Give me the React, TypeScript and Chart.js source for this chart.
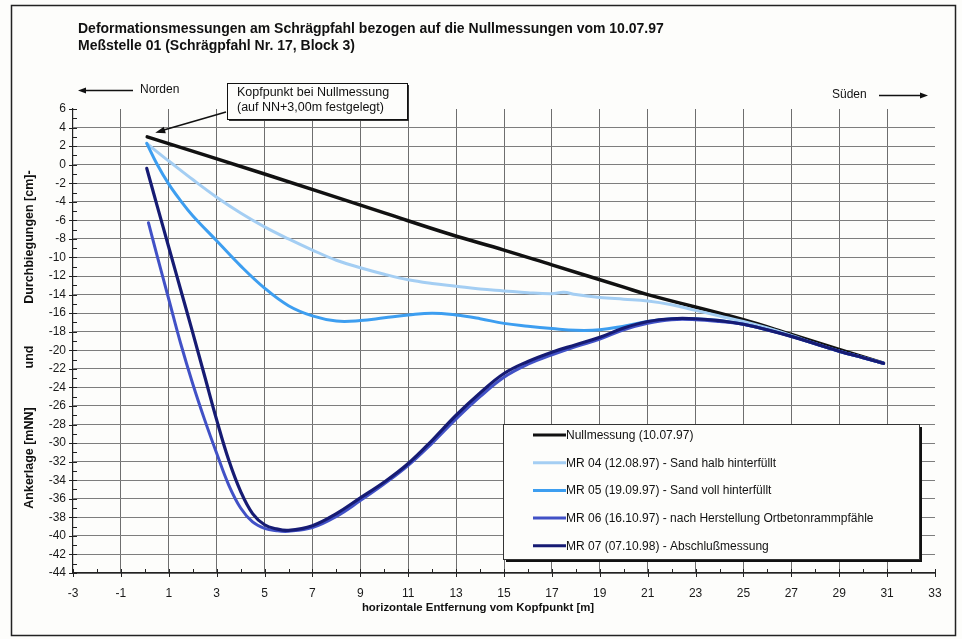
import React, { useEffect, useRef } from "react";
import { Chart, registerables } from "chart.js";

Chart.register(...registerables);

// ---------- text ----------
const TITLE_LINES = [
  "Deformationsmessungen am Schrägpfahl bezogen auf die Nullmessungen vom 10.07.97",
  "Meßstelle 01 (Schrägpfahl Nr. 17, Block 3)",
];
const X_TITLE = "horizontale Entfernung vom Kopfpunkt [m]";
const Y_TITLE_PARTS = ["Durchbiegungen [cm]-", "und", "Ankerlage [mNN]"];
const NOTE_LINES = ["Kopfpunkt bei Nullmessung", "(auf NN+3,00m festgelegt)"];
const NORTH_LABEL = "Norden";
const SOUTH_LABEL = "Süden";

// ---------- axes ----------
const X_MIN = -3;
const X_MAX = 33;
const X_STEP = 2;
const Y_MIN = -44;
const Y_MAX = 6;
const Y_STEP = 2;

// ---------- series ----------
const SERIES_LABELS = [
  "Nullmessung (10.07.97)",
  "MR 04 (12.08.97) - Sand halb hinterfüllt",
  "MR 05 (19.09.97) - Sand voll hinterfüllt",
  "MR 06 (16.10.97) - nach Herstellung Ortbetonrammpfähle",
  "MR 07 (07.10.98) - Abschlußmessung",
];
const SERIES_COLORS = ["#111111", "#a4cef3", "#3d9ef0", "#4151c6", "#161b73"];

const NULL_X = [0.1, 5, 10, 12.75, 15, 17, 20, 21, 25, 27, 30.85];
const NULL_Y = [3, -1.0, -5.2, -7.5, -9.2, -10.8, -13.2, -14.0, -16.7, -18.3, -21.4];

const MR04_X = [0.08, 0.5, 1, 2, 3, 4, 5, 6, 7, 8, 9, 10, 11, 12, 13, 14, 15, 16, 17, 17.5, 18, 19, 20, 21, 22, 23, 24, 25, 26, 27, 28, 29, 30, 30.85];
const MR04_Y = [2.3, 1.4, 0.4, -1.6, -3.5, -5.2, -6.7, -8.0, -9.2, -10.3, -11.1, -11.8, -12.4, -12.8, -13.1, -13.4, -13.6, -13.8, -13.9, -13.75, -14.0, -14.3, -14.5, -14.7, -15.1, -15.7, -16.3, -16.9, -17.6, -18.4, -19.3, -20.1, -20.8, -21.4];

const MR05_X = [0.08, 0.5, 1, 1.5, 2, 3, 4, 5, 6, 7, 8, 9, 10, 11, 12, 13, 14, 15, 16, 17, 18, 19, 20, 21, 22, 23, 24, 25, 26, 27, 28, 29, 30, 30.85];
const MR05_Y = [2.3, 0.1, -2.1, -3.9, -5.5, -8.2, -10.9, -13.3, -15.2, -16.3, -16.85, -16.8, -16.5, -16.2, -16.0, -16.2, -16.6, -17.1, -17.4, -17.65, -17.85, -17.8, -17.4, -16.9, -16.6, -16.6, -16.8, -17.2, -17.8, -18.5, -19.3, -20.1, -20.8, -21.4];

const MR06_X = [0.15, 0.5, 1, 1.5, 2, 2.5, 3, 3.5, 4, 4.5, 5, 5.5, 6, 7, 8, 9, 10, 11, 12, 13, 14, 15, 16, 17, 18, 19, 20, 21, 22, 23, 24, 25, 26, 27, 28, 29, 30, 30.85];
const MR06_Y = [-6.25, -9.7, -14.5, -19.3, -23.6, -27.5, -31.1, -34.5, -37.0, -38.5, -39.2, -39.45, -39.5, -39.1, -37.9, -36.2, -34.4, -32.4, -30.0, -27.4, -25.0, -22.9, -21.5, -20.5, -19.6, -18.8, -17.8, -17.1, -16.7, -16.7, -16.9, -17.2, -17.8, -18.5, -19.3, -20.1, -20.8, -21.4];

const MR07_X = [0.08, 0.5, 1, 1.5, 2, 2.5, 3, 3.5, 4, 4.5, 5, 5.5, 6, 7, 8, 9, 10, 11, 12, 13, 14, 15, 16, 17, 18, 19, 20, 21, 22, 23, 24, 25, 26, 27, 28, 29, 30, 30.85];
const MR07_Y = [-0.4, -4.3, -8.9, -13.5, -18.1, -22.8, -27.5, -31.8, -35.2, -37.6, -38.8, -39.25, -39.4, -38.9, -37.6, -35.9, -34.2, -32.2, -29.7, -27.0, -24.6, -22.5, -21.2, -20.2, -19.4, -18.6, -17.6, -16.9, -16.6, -16.6, -16.8, -17.2, -17.8, -18.5, -19.3, -20.1, -20.8, -21.4];

const SERIES_X = [NULL_X, MR04_X, MR05_X, MR06_X, MR07_X];
const SERIES_Y = [NULL_Y, MR04_Y, MR05_Y, MR06_Y, MR07_Y];
const SERIES_WIDTH = [3.5, 3, 3, 3, 3.2];

const FONT = "'Liberation Sans', Arial, Helvetica, sans-serif";

function arrowHead(ctx: CanvasRenderingContext2D, x1: number, y1: number, x2: number, y2: number, len: number, half: number) {
  const a = Math.atan2(y2 - y1, x2 - x1);
  ctx.beginPath();
  ctx.moveTo(x2, y2);
  ctx.lineTo(x2 - len * Math.cos(a) + half * Math.sin(a), y2 - len * Math.sin(a) - half * Math.cos(a));
  ctx.lineTo(x2 - len * Math.cos(a) - half * Math.sin(a), y2 - len * Math.sin(a) + half * Math.cos(a));
  ctx.closePath();
  ctx.fill();
}

const decorPlugin = {
  id: "decor",
  beforeDraw(chart: any) {
    const { ctx, width, height } = chart;
    ctx.save();
    ctx.fillStyle = "#fdfdfb";
    ctx.fillRect(0, 0, width, height);
    ctx.restore();
  },
  afterDraw(chart: any) {
    const { ctx, chartArea } = chart;
    const xs = chart.scales.x;
    const ys = chart.scales.y;
    ctx.save();

    // outer frame
    ctx.strokeStyle = "#222";
    ctx.lineWidth = 1.5;
    ctx.strokeRect(11.5, 5.5, 944, 630);

    // axis tick marks (major crossing, minor inside)
    ctx.strokeStyle = "#222";
    ctx.lineWidth = 1;
    for (let v = Y_MIN; v <= Y_MAX; v += 1) {
      const py = Math.round(ys.getPixelForValue(v)) + 0.5;
      const major = (v - Y_MIN) % Y_STEP === 0;
      ctx.beginPath();
      ctx.moveTo(chartArea.left - (major ? 4 : 0), py);
      ctx.lineTo(chartArea.left + 4, py);
      ctx.stroke();
    }
    for (let v = X_MIN; v <= X_MAX; v += 1) {
      const px = Math.round(xs.getPixelForValue(v)) + 0.5;
      const major = (v - X_MIN) % X_STEP === 0;
      ctx.beginPath();
      ctx.moveTo(px, chartArea.bottom + (major ? 4 : 0));
      ctx.lineTo(px, chartArea.bottom - 4);
      ctx.stroke();
    }

    // title
    ctx.fillStyle = "#111";
    ctx.font = `bold 14px ${FONT}`;
    ctx.textAlign = "left";
    ctx.textBaseline = "middle";
    ctx.fillText(TITLE_LINES[0], 78, 29);
    ctx.fillText(TITLE_LINES[1], 78, 46);

    // y title (rotated pieces)
    ctx.font = `bold 12.5px ${FONT}`;
    ctx.textAlign = "center";
    const yPos = [237, 357, 458];
    Y_TITLE_PARTS.forEach((t, i) => {
      ctx.save();
      ctx.translate(30, yPos[i]);
      ctx.rotate(-Math.PI / 2);
      ctx.fillText(t, 0, 0);
      ctx.restore();
    });

    // x title
    ctx.font = `bold 11.4px ${FONT}`;
    ctx.textAlign = "center";
    ctx.fillText(X_TITLE, 478, 608);

    // Norden / Süden
    ctx.font = `12px ${FONT}`;
    ctx.textAlign = "left";
    ctx.fillText(NORTH_LABEL, 140, 90);
    ctx.fillText(SOUTH_LABEL, 832, 95);
    ctx.lineWidth = 1.6;
    ctx.strokeStyle = "#111";
    ctx.beginPath();
    ctx.moveTo(133, 90.5);
    ctx.lineTo(84, 90.5);
    ctx.stroke();
    arrowHead(ctx, 133, 90.5, 78, 90.5, 8, 3);
    ctx.beginPath();
    ctx.moveTo(879, 95.5);
    ctx.lineTo(922, 95.5);
    ctx.stroke();
    arrowHead(ctx, 879, 95.5, 928, 95.5, 8, 3);

    // note box with shadow
    const bx = 227, by = 83, bw = 180, bh = 36;
    ctx.fillStyle = "#333";
    ctx.fillRect(bx + 2, by + 2, bw, bh);
    ctx.fillStyle = "#fdfdfb";
    ctx.fillRect(bx, by, bw, bh);
    ctx.lineWidth = 1;
    ctx.strokeStyle = "#111";
    ctx.strokeRect(bx + 0.5, by + 0.5, bw, bh);
    ctx.fillStyle = "#111";
    ctx.font = `12.5px ${FONT}`;
    ctx.textAlign = "left";
    ctx.fillText(NOTE_LINES[0], 237, 93);
    ctx.fillText(NOTE_LINES[1], 237, 108);

    // arrow to Kopfpunkt
    const tipX = xs.getPixelForValue(NULL_X[0]) + 8;
    const tipY = ys.getPixelForValue(NULL_Y[0]) - 4;
    ctx.lineWidth = 1.6;
    ctx.beginPath();
    ctx.moveTo(226, 112);
    ctx.lineTo(tipX + 6, tipY - 2);
    ctx.stroke();
    ctx.fillStyle = "#111";
    arrowHead(ctx, 226, 112, tipX, tipY, 10, 3.5);

    // legend box
    const lx = 503, ly = 424, lw = 416, lh = 135;
    ctx.fillStyle = "#111";
    ctx.fillRect(lx + 3, ly + 3, lw, lh);
    ctx.fillStyle = "#fdfdfb";
    ctx.fillRect(lx, ly, lw, lh);
    ctx.lineWidth = 1;
    ctx.strokeStyle = "#333";
    ctx.strokeRect(lx + 0.5, ly + 0.5, lw, lh);
    ctx.font = `12px ${FONT}`;
    ctx.textBaseline = "middle";
    chart.data.datasets.forEach((ds: any, i: number) => {
      const rowY = 435 + i * 27.7;
      ctx.strokeStyle = ds.borderColor;
      ctx.lineWidth = 3;
      ctx.beginPath();
      ctx.moveTo(533, rowY);
      ctx.lineTo(566, rowY);
      ctx.stroke();
      ctx.fillStyle = "#111";
      ctx.fillText(ds.label, 566, rowY + 0.5);
    });

    ctx.restore();
  },
};

export default function App() {
  const canvasRef = useRef<HTMLCanvasElement | null>(null);

  useEffect(() => {
    const canvas = canvasRef.current;
    if (!canvas) return;
    const datasets = SERIES_LABELS.map((label, i) => ({
      label,
      data: SERIES_X[i].map((x, j) => ({ x, y: SERIES_Y[i][j] })),
      borderColor: SERIES_COLORS[i],
      backgroundColor: SERIES_COLORS[i],
      borderWidth: SERIES_WIDTH[i],
      pointRadius: 0,
      fill: false,
      tension: 0.4,
      order: SERIES_LABELS.length - i,
      borderCapStyle: "round" as const,
      borderJoinStyle: "round" as const,
    }));

    const chart = new Chart(canvas, {
      type: "line",
      data: { datasets },
      options: {
        responsive: false,
        animation: false,
        maintainAspectRatio: false,
        layout: { padding: { left: 20, top: 109, right: 27, bottom: 16 } },
        plugins: {
          legend: { display: false },
          title: { display: false },
          tooltip: { enabled: false },
        },
        scales: {
          x: {
            type: "linear",
            min: X_MIN,
            max: X_MAX,
            afterFit: (s: any) => {
              s.height = 50;
            },
            ticks: {
              stepSize: X_STEP,
              autoSkip: false,
              maxRotation: 0,
              padding: 13,
              color: "#1a1a1a",
              font: { family: FONT, size: 12 },
            },
            grid: {
              drawTicks: false,
              lineWidth: 1,
              color: (c: any) =>
                c.tick && (c.tick.value === X_MIN || c.tick.value === X_MAX) ? "rgba(0,0,0,0)" : "#6e6e6e",
            },
            border: { display: true, color: "#222", width: 1.2 },
          },
          y: {
            type: "linear",
            min: Y_MIN,
            max: Y_MAX,
            afterFit: (s: any) => {
              s.width = 53;
            },
            ticks: {
              stepSize: Y_STEP,
              autoSkip: false,
              padding: 7,
              color: "#1a1a1a",
              font: { family: FONT, size: 12 },
            },
            grid: {
              drawTicks: false,
              lineWidth: 1,
              color: (c: any) =>
                c.tick && c.tick.value === Y_MAX ? "rgba(0,0,0,0)" : "#7d7d7d",
            },
            border: { display: true, color: "#222", width: 1.2 },
          },
        },
      },
      plugins: [decorPlugin],
    });
    return () => chart.destroy();
  }, []);

  return (
    <div style={{ position: "fixed", left: 0, top: 0, width: 962, height: 639, background: "#fdfdfb" }}>
      <canvas ref={canvasRef} width={962} height={639} style={{ display: "block", width: 962, height: 639 }} />
    </div>
  );
}
